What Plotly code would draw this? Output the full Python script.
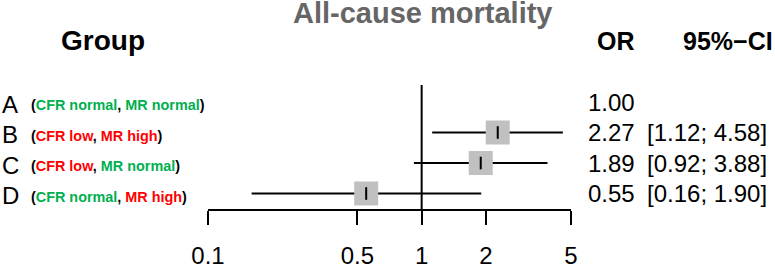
import plotly.graph_objects as go
import numpy as np

# ---- data ----
groups = ["A", "B", "C", "D"]
cfr_status = ["normal", "low", "low", "normal"]
mr_status = ["normal", "high", "normal", "high"]
or_vals = [1.00, 2.27, 1.89, 0.55]
ci_low = [None, 1.12, 0.92, 0.16]
ci_high = [None, 4.58, 3.88, 1.90]
tick_vals = [0.1, 0.5, 1, 2, 5]
tick_text = ["0.1", "0.5", "1", "2", "5"]
title_text = "All-cause mortality"

# ---- layout constants ----
W, H = 775, 265
x0_px, x1_px = 208, 571          # plot area horizontal extent (0.1 .. 5)
axis_px = 209                    # pixel y of the x axis line
row0_px, row_step = 102, 30.5    # row A centre, spacing

GREEN = "#00B050"
RED = "#FF0000"
FONT = "Liberation Sans, Arial, sans-serif"

def ypx_to_idx(p):
    return (p - row0_px) / row_step

def xpaper(px):
    return px / W

def ypaper(p):
    return (H - p) / H

fig = go.Figure()

# CI lines
for i, (lo, hi) in enumerate(zip(ci_low, ci_high)):
    if lo is None:
        continue
    fig.add_trace(go.Scatter(x=[lo, hi], y=[i, i], mode="lines",
                             line=dict(color="black", width=2),
                             hoverinfo="skip", showlegend=False))

# squares
idx = [i for i in range(len(groups)) if ci_low[i] is not None]
fig.add_trace(go.Scatter(x=[or_vals[i] for i in idx], y=idx, mode="markers",
                         marker=dict(symbol="square", size=24, color="#C0C0C0",
                                     line=dict(width=0)),
                         showlegend=False))
# point estimate ticks
fig.add_trace(go.Scatter(x=[or_vals[i] for i in idx], y=idx, mode="markers",
                         marker=dict(symbol="line-ns", size=9,
                                     line=dict(color="black", width=2)),
                         showlegend=False))

# reference line at 1
fig.add_shape(type="line", xref="x", yref="y", x0=1, x1=1,
              y0=ypx_to_idx(85), y1=ypx_to_idx(axis_px),
              line=dict(color="black", width=2))

annotations = []

def col(txt, c):
    return f"<span style='color:{c}'>{txt}</span>"

for i, g in enumerate(groups):
    cc = GREEN if cfr_status[i] == "normal" else RED
    mc = GREEN if mr_status[i] == "normal" else RED
    annotations.append(dict(x=xpaper(0), y=i, xref="paper", yref="y",
                            text=g, showarrow=False, xanchor="left",
                            yanchor="middle", yshift=-2,
                            font=dict(size=24, color="black", family=FONT)))
    lab = ("<b>(" + col("CFR " + cfr_status[i], cc) + ", " +
           col("MR " + mr_status[i], mc) + ")</b>")
    annotations.append(dict(x=xpaper(29), y=i, xref="paper", yref="y",
                            text=lab, showarrow=False, xanchor="left",
                            yanchor="middle", yshift=-3,
                            font=dict(size=14.4, color="black", family=FONT)))
    annotations.append(dict(x=xpaper(637), y=i, xref="paper", yref="y",
                            text=f"{or_vals[i]:.2f}", showarrow=False,
                            xanchor="right", yanchor="middle",
                            font=dict(size=24, color="black", family=FONT)))
    if ci_low[i] is not None:
        annotations.append(dict(x=xpaper(645), y=i, xref="paper", yref="y",
                                text=f"[{ci_low[i]:.2f}; {ci_high[i]:.2f}]",
                                showarrow=False, xanchor="left", yanchor="middle",
                                font=dict(size=24, color="black", family=FONT)))

# headers
annotations.append(dict(x=xpaper(59), y=ypaper(41), xref="paper", yref="paper",
                        text="<b>Group</b>", showarrow=False, xanchor="left",
                        yanchor="middle",
                        font=dict(size=28, color="black", family=FONT)))
annotations.append(dict(x=xpaper(637), y=ypaper(41), xref="paper", yref="paper",
                        text="<b>OR</b>", showarrow=False, xanchor="right",
                        yanchor="middle",
                        font=dict(size=25, color="black", family=FONT)))
annotations.append(dict(x=xpaper(681), y=ypaper(41), xref="paper", yref="paper",
                        text="<b>95%\u2212CI</b>", showarrow=False, xanchor="left",
                        yanchor="middle",
                        font=dict(size=25, color="black", family=FONT)))
annotations.append(dict(x=xpaper(422.5), y=ypaper(13), xref="paper", yref="paper",
                        text="<b>" + title_text + "</b>", showarrow=False,
                        xanchor="center", yanchor="middle",
                        font=dict(size=29, color="#666666", family=FONT)))

fig.update_layout(
    template="none",
    width=W, height=H,
    margin=dict(l=0, r=0, t=0, b=0, pad=0, autoexpand=False),
    plot_bgcolor="white", paper_bgcolor="white",
    annotations=annotations,
    xaxis=dict(type="log", range=[np.log10(0.1), np.log10(5)],
               domain=[x0_px / W, x1_px / W], automargin=False,
               tickvals=tick_vals, ticktext=tick_text,
               showline=True, linecolor="black", linewidth=2,
               ticks="outside", ticklen=14, tickwidth=2, tickcolor="black",
               ticklabelstandoff=10,
               showgrid=False, zeroline=False,
               tickfont=dict(size=24, color="black", family=FONT)),
    yaxis=dict(domain=[(H - axis_px) / H, 1], automargin=False,
               range=[ypx_to_idx(axis_px), ypx_to_idx(0)],
               visible=False, showgrid=False, zeroline=False),
)

fig.write_html("out.html", config={"displayModeBar": False},
               post_script="document.body.style.margin='0px';document.body.style.overflow='hidden';")
